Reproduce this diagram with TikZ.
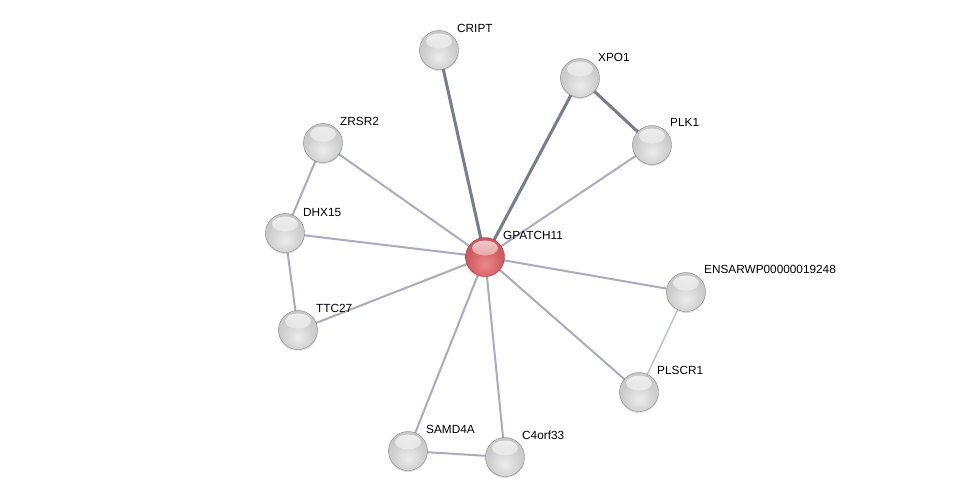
\documentclass[tikz,border=0pt]{standalone}
\usepackage{fontspec}
\setmainfont{Liberation Sans}
\usetikzlibrary{backgrounds,shadows,fadings}
\definecolor{strong}{RGB}{118,124,146}
\definecolor{weak}{RGB}{170,170,192}
\definecolor{faint}{RGB}{190,194,212}
\definecolor{gc}{RGB}{236,236,236}
\definecolor{gm}{RGB}{204,204,204}
\definecolor{ge}{RGB}{140,140,140}
\definecolor{rc}{RGB}{238,136,138}
\definecolor{rm}{RGB}{208,92,96}
\definecolor{re}{RGB}{155,48,52}
\pgfdeclareradialshading{gball}{\pgfqpoint{0bp}{-10bp}}{color(0bp)=(gc); color(22bp)=(gm); color(44bp)=(gm!75!ge); color(56bp)=(ge); color(70bp)=(ge)}
\pgfdeclareradialshading{rball}{\pgfqpoint{0bp}{-10bp}}{color(0bp)=(rc); color(22bp)=(rm); color(44bp)=(rm!75!re); color(56bp)=(re); color(70bp)=(re)}
\tikzset{
  hilite/.style={path picture={\fill[white,path fading=south,opacity=0.75] ([yshift=9pt]path picture bounding box.center) ellipse (13pt and 7.5pt);}},
  prot/.style={circle,minimum size=39pt,inner sep=0pt,shading=gball,draw=ge!85!black,line width=0.3pt,hilite,
    drop shadow={shadow xshift=0pt,shadow yshift=-1.5pt,opacity=0.25}},
  hub/.style={circle,minimum size=39pt,inner sep=0pt,shading=rball,draw=re,line width=0.3pt,hilite,
    drop shadow={shadow xshift=0pt,shadow yshift=-1.5pt,opacity=0.25}},
  lab/.style={anchor=west,font=\fontsize{11.8}{13}\selectfont,inner sep=1pt,text=black},
  edgeS/.style={draw=strong,line width=3pt},
  edgeW/.style={draw=weak,line width=2pt},
  edgeF/.style={draw=faint,line width=1.5pt}
}
\begin{document}
\begin{tikzpicture}[x=1pt,y=-1pt]
\useasboundingbox (0,0) rectangle (975,501);
\node[hub]  (g)  at (485,257) {};
\node[prot] (cr) at (439,50) {};
\node[prot] (xp) at (580,78) {};
\node[prot] (pl) at (652,145) {};
\node[prot] (zr) at (323,143) {};
\node[prot] (dh) at (285,233) {};
\node[prot] (tt) at (298,330) {};
\node[prot] (en) at (686,292) {};
\node[prot] (ps) at (639,392) {};
\node[prot] (sa) at (408,451) {};
\node[prot] (c4) at (505,457) {};
\node[lab] (lg)  at (502,235) {GPATCH11};
\node[lab] (lcr) at (456,28) {CRIPT};
\node[lab] (lxp) at (597,57) {XPO1};
\node[lab] (lpl) at (669,122) {PLK1};
\node[lab] (lzr) at (339,121) {ZRSR2};
\node[lab] (ldh) at (302,212) {DHX15};
\node[lab] (ltt) at (315,308) {TTC27};
\node[lab] (len) at (703,269) {ENSARWP00000019248};
\node[lab] (lps) at (656,370) {PLSCR1};
\node[lab] (lsa) at (425,429) {SAMD4A};
\node[lab] (lc4) at (521,435) {C4orf33};
\begin{pgfonlayer}{background}
\draw[edgeS] (g.center) -- (cr.center);
\draw[edgeS] (g.center) -- (xp.center);
\draw[edgeS] (xp.center) -- (pl.center);
\draw[edgeW] (g.center) -- (pl.center);
\draw[edgeW] (g.center) -- (zr.center);
\draw[edgeW] (g.center) -- (dh.center);
\draw[edgeW] (g.center) -- (tt.center);
\draw[edgeW] (g.center) -- (en.center);
\draw[edgeW] (g.center) -- (ps.center);
\draw[edgeW] (g.center) -- (sa.center);
\draw[edgeW] (g.center) -- (c4.center);
\draw[edgeW] (zr.center) -- (dh.center);
\draw[edgeW] (dh.center) -- (tt.center);
\draw[edgeW] (sa.center) -- (c4.center);
\draw[edgeF] (en.center) -- (ps.center);
\end{pgfonlayer}
\end{tikzpicture}
\end{document}
